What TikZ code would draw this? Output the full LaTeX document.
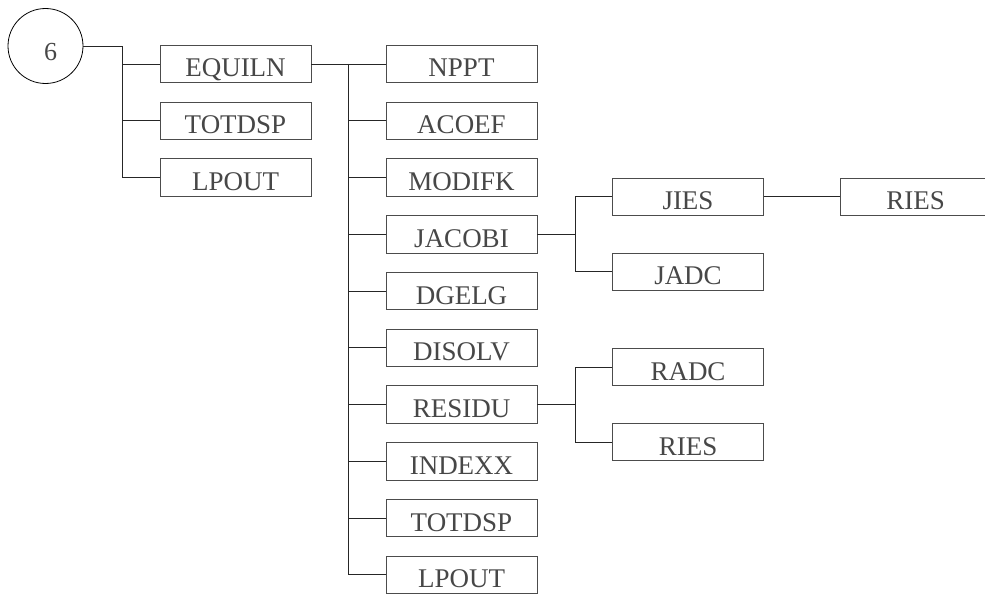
\documentclass[tikz,border=0pt]{standalone}
\usepackage{fontspec}
\setmainfont{Liberation Serif}
\usetikzlibrary{positioning}
\definecolor{boxline}{gray}{0.30}
\definecolor{boxtext}{gray}{0.28}
\tikzset{
    modbox/.style={draw=boxline, line width=0.9pt, rectangle, inner sep=0pt,
        minimum width=151pt, minimum height=37.5pt,
        text height=26pt, text depth=0pt, text=boxtext,
        font=\fontsize{27}{32}\selectfont},
    rootnode/.style={draw=black, line width=0.8pt, circle, inner sep=0pt,
        minimum size=75pt, text height=30pt, text depth=0pt, text=boxtext,
        font=\fontsize{26}{31}\selectfont},
    link/.style={draw=black!85, line width=0.9pt}
}
\begin{document}
\begin{tikzpicture}[x=1pt, y=-1pt]
    \clip (0,0) rectangle (985,594);

    % Root and first level
    \node[rootnode] (root) at (45.5,46) {\hspace*{10pt}6};
    \foreach \name [count=\i] in {EQUILN,TOTDSP,LPOUT} {
        \node[modbox] (a\i) at (235.5,{64+56.75*(\i-1)}) {\name};
    }
    \coordinate (bus1) at (122,0);
    \draw[link] (root.east) -- (root.east -| bus1) |- (a3.west);
    \foreach \i in {1,2} {
        \draw[link] (a\i.west -| bus1) -- (a\i.west);
    }

    % Second level (called by EQUILN)
    \foreach \name [count=\i] in {NPPT,ACOEF,MODIFK,JACOBI,DGELG,DISOLV,RESIDU,INDEXX,TOTDSP,LPOUT} {
        \node[modbox] (b\i) at (461.5,{64+56.75*(\i-1)}) {\name};
    }
    \coordinate (bus2) at (348,0);
    \draw[link] (a1.east) -- (b1.west);
    \draw[link] (b1.west -| bus2) |- (b10.west);
    \foreach \i in {2,...,9} {
        \draw[link] (b\i.west -| bus2) -- (b\i.west);
    }

    % Third level
    \node[modbox] (c1) at (688,196.75) {JIES};
    \node[modbox] (c2) at (688,271.75) {JADC};
    \node[modbox] (c3) at (688,367) {RADC};
    \node[modbox] (c4) at (688,442) {RIES};
    \node[modbox] (d1) at (915.5,196.75) {RIES};
    \coordinate (bus3) at (575.5,0);
    \draw[link] (b4.east) -- (b4.east -| bus3);
    \draw[link] (c1.west) -- (c1.west -| bus3) |- (c2.west);
    \draw[link] (b7.east) -- (b7.east -| bus3);
    \draw[link] (c3.west) -- (c3.west -| bus3) |- (c4.west);
    \draw[link] (c1.east) -- (d1.west);
\end{tikzpicture}
\end{document}
